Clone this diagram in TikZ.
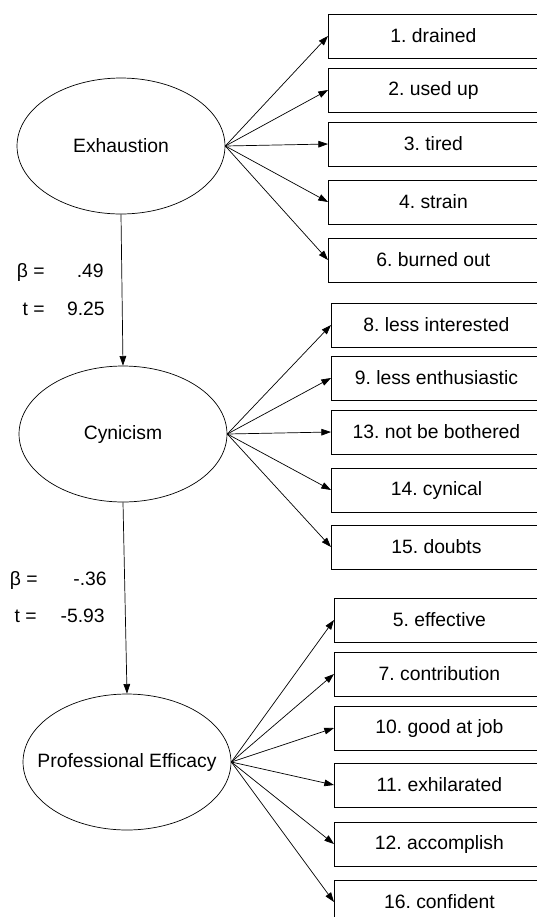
\documentclass[tikz,border=0pt]{standalone}
\usepackage{fontspec}
\setmainfont{Liberation Sans}
\frenchspacing
\usetikzlibrary{shapes.geometric,arrows.meta}

\begin{document}
\begin{tikzpicture}[x=0.02cm,y=-0.02cm,font=\fontsize{11}{13}\selectfont,
	latent/.style={draw,ellipse,line width=0.4pt,minimum width=4.16cm,minimum height=2.72cm,inner sep=0pt},
	item/.style={draw,rectangle,anchor=west,line width=0.5pt,minimum width=4.2cm,minimum height=0.88cm,inner sep=0pt},
	load/.style={-{Triangle[length=5.5pt,width=3.8pt]},line width=0.4pt},
	coef/.style={anchor=base east,inner sep=0pt}]
	\useasboundingbox (0,0) rectangle (537,917);
	\clip (0,0) rectangle (537,917);
	% latent factors
	\node[latent] (exh) at (121,146) {Exhaustion};
	\node[latent] (cyn) at (123,434) {Cynicism};
	\node[latent] (eff) at (127,762) {\makebox[0pt]{Professional Efficacy}};
	% structural paths
	\draw[load] (exh.south) -- (cyn.north);
	\draw[load] (cyn.south) -- (eff.north);
	\node[coef] (b1) at (45,277) {β =};
	\node[coef] (bv1) at (104,277) {.49};
	\node[coef] (t1) at (45,315) {t =};
	\node[coef] (tv1) at (105,315) {9.25};
	\node[coef] (b2) at (38,585) {β =};
	\node[coef] (bv2) at (107,585) {-.36};
	\node[coef] (t2) at (37,622) {t =};
	\node[coef] (tv2) at (105,622) {-5.93};
	% items
	\foreach \y/\n/\t in {36/e1/1. drained, 90/e2/2. used up, 144/e3/3. tired, 202/e4/4. strain, 260/e6/6. burned out} {
		\node[item] (\n) at (328,\y) {\t};
		\draw[load] (exh.east) -- (\n.west);
	}
	\foreach \y/\n/\t in {325/c8/8. less interested, 378/c9/9. less enthusiastic, 432/c13/13. not be bothered, 490/c14/14. cynical, 547/c15/15. doubts} {
		\node[item] (\n) at (331,\y) {\t};
		\draw[load] (cyn.east) -- (\n.west);
	}
	\foreach \y/\n/\t in {620/p5/5. effective, 674/p7/7. contribution, 728/p10/10. good at job, 785/p11/11. exhilarated, 844/p12/12. accomplish, 902/p16/16. confident} {
		\node[item] (\n) at (334,\y) {\t};
		\draw[load] (eff.east) -- (\n.west);
	}
\end{tikzpicture}
\end{document}
